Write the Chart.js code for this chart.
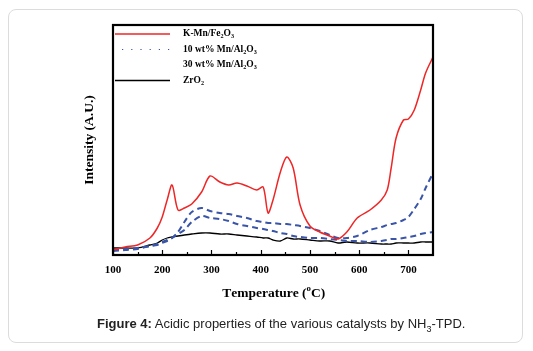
<!DOCTYPE html>
<html lang="en">
<head>
  <meta charset="UTF-8">
  <title>Acidic properties of the various catalysts by NH3-TPD</title>
  <style>
    body {
      margin: 0;
      background: #fff;
    }

    #wrap {
      position: relative;
      width: 533px;
      height: 351px;
      overflow: hidden;
    }

    .card {
      position: absolute;
      left: 8px;
      top: 9px;
      width: 515px;
      height: 334px;
      box-sizing: border-box;
      border: 1px solid #dcdcdc;
      border-radius: 8px;
    }

    #tpdChart {
      position: absolute;
      left: 0;
      top: 0;
    }

    .caption {
      position: absolute;
      left: 97px;
      top: 316px;
      font-family: 'Liberation Sans', Arial, sans-serif;
      font-size: 13px;
      color: #222;
      white-space: nowrap;
    }

    .caption sub {
      font-size: 9px;
    }
  </style>
</head>
<body>
  <div id="wrap">
    <div class="card"></div>
    <canvas id="tpdChart" width="533" height="351"></canvas>
    <div class="caption"><b>Figure 4:</b> Acidic properties of the various catalysts by NH<sub>3</sub>-TPD.</div>
  </div>

  <script src="https://cdn.jsdelivr.net/npm/chart.js"></script>
  <script>
    // temperatures (°C) the curves were read at
    const temps = [100, 125, 150, 175, 190, 200, 210, 220, 232, 245, 260, 280, 297, 317, 335, 352, 372, 392, 405, 415,
      425, 440, 453, 466, 480, 500, 520, 540, 557, 575, 596, 622, 645, 657, 665, 675, 690, 700, 712, 725, 735, 750];

    // intensity, arbitrary units
    const kMnFe = [5, 8, 10, 17, 27, 38, 55, 70, 45, 47, 51, 63, 79, 73, 70, 72, 69, 65, 68, 42,
      55, 83, 98, 87, 50, 29, 23, 19, 16, 23, 37, 45, 55, 65, 87, 117, 135, 136, 145, 165, 182, 198];
    const mn30 = [5, 6, 7, 9, 10, 12, 14, 17, 23, 33, 43, 47, 44, 42, 41, 39, 37, 34, 33, 32,
      32, 31, 31, 30, 29, 27, 24, 20, 17, 17, 19, 25, 28, 30, 31, 32, 35, 38, 46, 56, 67, 82];
    const mn10 = [4, 5, 6, 9, 11, 13, 15, 17, 21, 25, 33, 39, 37, 36, 34, 31, 29, 27, 26, 25,
      24, 22, 21, 19, 18, 17, 17, 16, 15, 14, 14, 13, 14, 15, 16, 16, 17, 18, 19, 21, 22, 23];
    const zro2 = [7, 7, 7, 10, 12, 15, 17, 18, 19, 20, 21, 22, 22, 21, 21, 20, 19, 18, 17, 17,
      15, 14, 17, 16, 16, 15, 14, 14, 12, 13, 12, 12, 11, 11, 11, 12, 12, 12, 12, 13, 13, 13];

    const xTicks = [100, 200, 300, 400, 500, 600, 700];
    const xMinor = [150, 250, 350, 450, 550, 650];

    // "_3" = subscript, "^o" = superscript
    const legendItems = [
      { text: 'K-Mn/Fe_2O_3', color: '#ee2626', kind: 'solid' },
      { text: '10 wt% Mn/Al_2O_3', color: '#3a55a8', kind: 'dots' },
      { text: '30 wt% Mn/Al_2O_3', color: '#3a55a8', kind: 'none' },
      { text: 'ZrO_2', color: '#000', kind: 'solid' }
    ];

    const serif = "'Liberation Serif', 'Times New Roman', serif";

    function pts(vals) {
      return temps.map((t, i) => ({ x: t, y: vals[i] }));
    }

    function drawRich(ctx, str, x, y, size) {
      let i = 0;
      while (i < str.length) {
        let ch = str[i];
        let dy = 0;
        let sz = size;
        if ((ch === '_' || ch === '^') && i + 1 < str.length) {
          sz = size * 0.65;
          dy = ch === '_' ? size * 0.28 : -size * 0.38;
          ch = str[i + 1];
          i++;
        }
        ctx.font = 'bold ' + sz + 'px ' + serif;
        ctx.fillText(ch, x, y + dy);
        x += ctx.measureText(ch).width;
        i++;
      }
    }

    const decorations = {
      id: 'decorations',
      afterDraw(chart) {
        const ctx = chart.ctx;
        const area = chart.chartArea;
        const xs = chart.scales.x;
        ctx.save();

        // tick marks pointing inward
        ctx.strokeStyle = '#000';
        ctx.lineWidth = 1.2;
        ctx.beginPath();
        xTicks.forEach(v => {
          const px = Math.round(xs.getPixelForValue(v)) + 0.5;
          ctx.moveTo(px, area.bottom);
          ctx.lineTo(px, area.bottom - 5);
        });
        xMinor.forEach(v => {
          const px = Math.round(xs.getPixelForValue(v)) + 0.5;
          ctx.moveTo(px, area.bottom);
          ctx.lineTo(px, area.bottom - 3);
        });
        ctx.stroke();

        // frame
        ctx.lineWidth = 2.2;
        ctx.strokeRect(area.left, area.top, area.right - area.left, area.bottom - area.top);

        // axis titles
        ctx.fillStyle = '#000';
        ctx.textBaseline = 'middle';
        ctx.font = 'bold 13.5px ' + serif;
        const xt = 'Temperature (^oC)';
        ctx.textAlign = 'left';
        let w = 0;
        // measure roughly for centring
        ctx.font = 'bold 13.5px ' + serif;
        w = ctx.measureText('Temperature (C)').width + ctx.measureText('o').width * 0.65;
        drawRich(ctx, xt, (area.left + area.right) / 2 - w / 2, 294, 13.5);

        ctx.save();
        ctx.translate(90, (area.top + area.bottom) / 2);
        ctx.rotate(-Math.PI / 2);
        ctx.font = 'bold 13.5px ' + serif;
        ctx.textAlign = 'center';
        ctx.fillText('Intensity (A.U.)', 0, 0);
        ctx.restore();

        // legend
        ctx.textAlign = 'left';
        legendItems.forEach((item, i) => {
          const y = 34 + i * 15.5;
          ctx.strokeStyle = item.color;
          if (item.kind === 'solid') {
            ctx.lineWidth = 1.3;
            ctx.setLineDash([]);
            ctx.beginPath();
            ctx.moveTo(115, y);
            ctx.lineTo(170, y);
            ctx.stroke();
          } else if (item.kind === 'dots') {
            ctx.lineWidth = 1.2;
            ctx.setLineDash([1.2, 8]);
            ctx.beginPath();
            ctx.moveTo(122, y);
            ctx.lineTo(170, y);
            ctx.stroke();
            ctx.setLineDash([]);
          }
          ctx.fillStyle = '#000';
          drawRich(ctx, item.text, 183, y, 9.5);
        });

        ctx.restore();
      }
    };

    new Chart(document.getElementById('tpdChart'), {
      type: 'line',
      data: {
        datasets: [{
          label: 'K-Mn/Fe2O3',
          data: pts(kMnFe),
          borderColor: '#ee2626',
          borderWidth: 1.5,
          pointRadius: 0,
          tension: 0.3
        },
        {
          label: '30 wt% Mn/Al2O3',
          data: pts(mn30),
          borderColor: '#3a55a8',
          borderWidth: 2,
          borderDash: [6, 4],
          pointRadius: 0,
          tension: 0.3
        },
        {
          label: '10 wt% Mn/Al2O3',
          data: pts(mn10),
          borderColor: '#3a55a8',
          borderWidth: 2,
          borderDash: [6, 4],
          pointRadius: 0,
          tension: 0.3
        },
        {
          label: 'ZrO2',
          data: pts(zro2),
          borderColor: '#000',
          borderWidth: 1.3,
          pointRadius: 0,
          tension: 0.3
        }]
      },
      options: {
        responsive: false,
        animation: false,
        devicePixelRatio: 1,
        layout: {
          padding: { top: 25, left: 113, right: 100, bottom: 0 }
        },
        plugins: {
          legend: { display: false },
          tooltip: { enabled: false }
        },
        scales: {
          x: {
            type: 'linear',
            min: 100,
            max: 750,
            grid: { display: false, drawTicks: false },
            border: { display: false },
            afterBuildTicks: s => { s.ticks = xTicks.map(v => ({ value: v })); },
            afterFit: s => { s.height = 96; },
            ticks: {
              padding: 9,
              color: '#000',
              font: { family: serif, size: 11, weight: 'bold' }
            }
          },
          y: {
            display: false,
            min: 0,
            max: 230
          }
        }
      },
      plugins: [decorations]
    });
  </script>
</body>
</html>
